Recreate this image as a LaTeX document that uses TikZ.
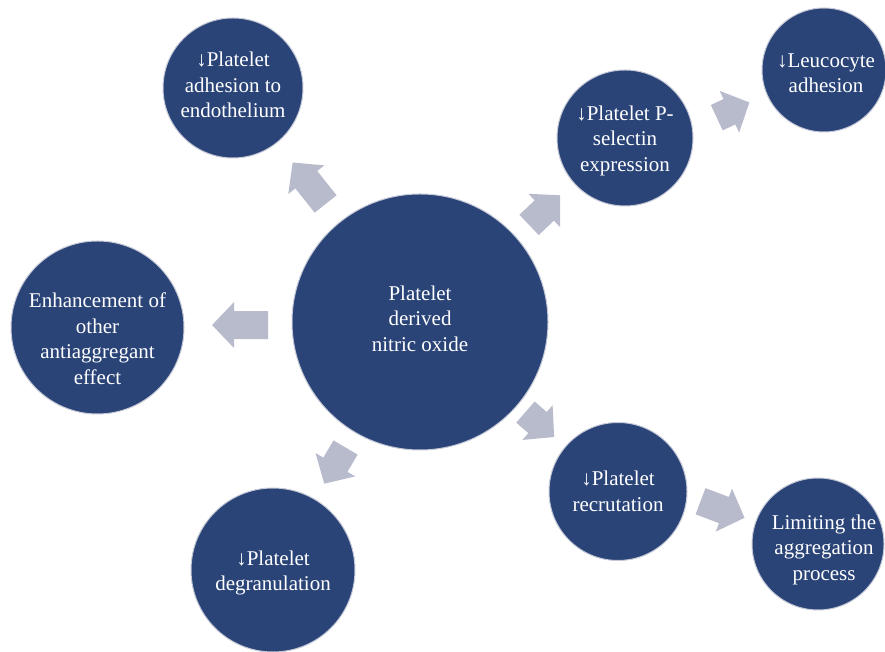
\documentclass[tikz,border=0pt]{standalone}
\usepackage{fontspec}
\setmainfont{Liberation Serif}
\usetikzlibrary{calc,backgrounds}
\definecolor{navy}{RGB}{42,68,120}
\definecolor{ringgray}{RGB}{196,200,214}
\definecolor{arrowgray}{RGB}{184,187,204}
\tikzset{
  bubble/.style={circle, fill=navy, draw=ringgray, line width=1pt, inner sep=0pt},
  bubbletext/.style={text=white, align=center, inner sep=0pt,
    font=\fontsize{21}{25.5}\selectfont},
}
\newcommand{\blockarr}[3]{%
  \fill[arrowgray, shift={#1}, rotate=#2]
    ({-#3/2},-14) -- ({#3/2-22},-14) -- ({#3/2-22},-23) -- ({#3/2},0)
    -- ({#3/2-22},23) -- ({#3/2-22},14) -- ({-#3/2},14) -- cycle;}
\begin{document}
\begin{tikzpicture}[x=1pt,y=1pt]
\useasboundingbox (0,0) rectangle (885,652);
\node[bubble, minimum size=256pt] (c) at (420,330) {};
\node[bubble, minimum size=140pt] (tl) at (233,564) {};
\node[bubble, minimum size=136pt] (ps) at (625,514) {};
\node[bubble, minimum size=124pt] (le) at (824,582) {};
\node[bubble, minimum size=173pt] (en) at (97.5,324.5) {};
\node[bubble, minimum size=164pt] (de) at (273,82) {};
\node[bubble, minimum size=138pt] (re) at (618,160.5) {};
\node[bubble, minimum size=132pt] (li) at (818,108) {};
\node[bubbletext] (c-t) at ($(c)+(0,3.5)$) {Platelet\\derived\\nitric oxide};
\node[bubbletext] (tl-t) at ($(tl)+(0,3)$) {↓Platelet\\adhesion to\\endothelium};
\node[bubbletext] (ps-t) at ($(ps)+(0,-2.5)$) {↓Platelet P-\\selectin\\expression};
\node[bubbletext] (le-t) at ($(le)+(2,-3)$) {↓Leucocyte\\adhesion};
\node[bubbletext] (en-t) at ($(en)+(0,-11)$) {Enhancement of\\other\\antiaggregant\\effect};
\node[bubbletext] (de-t) at ($(de)+(0,-3)$) {↓Platelet\\degranulation};
\node[bubbletext] (re-t) at (re) {↓Platelet\\recrutation};
\node[bubbletext] (li-t) at ($(li)+(6,-5.5)$) {Limiting the\\aggregation\\process};
\begin{pgfonlayer}{background}
\blockarr{($(c)!0.593!(tl)$)}{128.5}{53}
\blockarr{($(c)!0.608!(ps)$)}{43.6}{43}
\blockarr{($(ps)!0.543!(le)+(0,-9)$)}{25}{36}
\blockarr{($(c)!0.558!(en)$)}{180}{56}
\blockarr{($(c)!0.605!(re)$)}{-41}{38}
\blockarr{($(c)!0.579!(de)$)}{-120.5}{42}
\blockarr{($(re)!0.5225!(li)+(0,9.4)$)}{-20.6}{47}
\end{pgfonlayer}
\end{tikzpicture}
\end{document}
